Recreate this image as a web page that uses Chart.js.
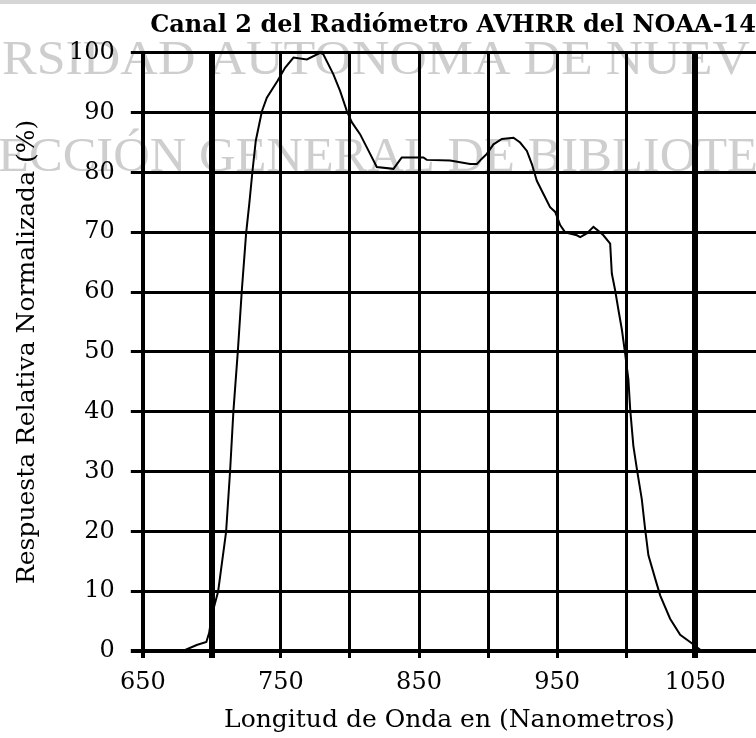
<!DOCTYPE html>
<html>
<head>
<meta charset="utf-8">
<script src="https://cdn.jsdelivr.net/npm/chart.js@4.4.1/dist/chart.umd.min.js"></script>
<style>
  html, body { margin: 0; padding: 0; background: #fff; overflow: hidden; }
  #wrap { width: 756px; height: 738px; position: relative; }
</style>
</head>
<body>
<div id="wrap"><canvas id="chart"></canvas></div>
<script>
// Canal 2 AVHRR / NOAA-14 - respuesta espectral
const wavelength = [650, 679, 689, 696, 698, 700, 704.5, 710.3, 713.2, 715.6, 718.8,
  721.7, 724.8, 727.2, 729.4, 731.8, 736.2, 739.8, 747.5, 753, 759.1,
  768.8, 778.4, 780.6, 788, 792.9, 797.7, 801.3, 807.3, 814.6, 819.4,
  831.5, 837.5, 853.2, 855.6, 872.5, 887, 891.9, 895.5, 899.1, 903.9,
  910, 918.4, 923.2, 928.1, 931.7, 935.3, 940.1, 944.9, 948.6, 952.2,
  955.8, 964.3, 966.7, 971.5, 976.3, 981.1, 983.5, 988.4, 989.6, 992,
  994.4, 996.9, 999.2, 1001.6, 1002.9, 1005.2, 1008.1, 1011.3, 1013.7, 1016.1,
  1021, 1024.6, 1031.8, 1039.1, 1047.5, 1053.6, 1100];
const response = [0, 0, 1.0, 1.5, 3, 6, 9.9, 19.9, 30.1, 40.1, 50.1,
  60.3, 69.8, 75, 80.2, 85.3, 90.2, 92.5, 95.3, 97.5, 99.2,
  98.9, 100, 99.8, 96.4, 93.6, 90.3, 88.4, 86.4, 83.1, 80.9,
  80.6, 82.5, 82.5, 82.1, 82.0, 81.4, 81.4, 82.3, 83.1, 84.7,
  85.6, 85.8, 85.0, 83.6, 81.4, 78.6, 76.4, 74.2, 73.4, 71.2,
  70.0, 69.5, 69.2, 69.8, 70.9, 70.0, 69.5, 68.1, 63.1, 60.3,
  57.0, 53.7, 49.8, 45.4, 40.4, 34.3, 29.9, 25.4, 20.4, 16.0,
  12.1, 9.3, 5.4, 2.7, 1.3, 0.2, 0];
const xTickLabels = [650, 750, 850, 950, 1050];
const yTickLabels = [0, 10, 20, 30, 40, 50, 60, 70, 80, 90, 100];

// faint scanned watermark behind the chart
const watermarkRows = ['RSIDAD AUTONOMA DE NUEV', 'ECCIÓN GENERAL DE BIBLIOTE'];

const serif = 'DejaVu Serif';

const backdrop = {
  id: 'backdrop',
  beforeDraw(chart) {
    const ctx = chart.ctx;
    ctx.save();
    ctx.fillStyle = '#d6d6d6';
    ctx.fillRect(0, 0, chart.width, 4);
    ctx.fillStyle = 'rgb(206,206,206)';
    ctx.font = '48px "Liberation Serif"';
    ctx.textBaseline = 'alphabetic';
    const rows = [[watermarkRows[0], 2, 750, 74], [watermarkRows[1], -2, 758, 171]];
    rows.forEach(([txt, x0, x1, base]) => {
      const w = ctx.measureText(txt).width;
      ctx.save();
      ctx.translate(x0, base);
      ctx.scale((x1 - x0) / w, 1);
      ctx.fillText(txt, 0, 0);
      ctx.restore();
    });
    ctx.restore();
  }
};

const points = wavelength.map((w, i) => ({ x: w, y: response[i] }));

new Chart(document.getElementById('chart'), {
  type: 'line',
  data: {
    datasets: [{
      data: points,
      borderColor: '#000',
      borderWidth: 2,
      pointRadius: 0,
      tension: 0,
      fill: false
    }]
  },
  options: {
    responsive: true,
    maintainAspectRatio: false,
    animation: false,
    layout: { padding: { left: 4, right: 0, top: 0, bottom: 0 } },
    plugins: {
      legend: { display: false },
      tooltip: { enabled: false },
      title: {
        display: true,
        text: 'Canal 2 del Radiómetro AVHRR del NOAA-14',
        align: 'end',
        color: '#000',
        font: { family: serif, size: 24, weight: 'bold' },
        padding: { top: 11, bottom: 13 }
      }
    },
    scales: {
      x: {
        type: 'linear',
        min: 650,
        max: 1094,
        border: { display: false },
        grid: {
          color: '#000',
          tickLength: 7,
          lineWidth: c => (c.tick && (c.tick.value === 700 || c.tick.value === 1050)) ? 6 : (c.tick && c.tick.value === 650 ? 4 : 3)
        },
        ticks: {
          stepSize: 50,
          includeBounds: false,
          autoSkip: false,
          maxRotation: 0,
          padding: 13,
          color: '#000',
          font: { family: serif, size: 24, lineHeight: 1 },
          callback: v => xTickLabels.includes(v) ? String(v) : ''
        },
        title: {
          display: true,
          text: 'Longitud de Onda en (Nanometros)',
          color: '#000',
          font: { family: serif, size: 25, lineHeight: 1 },
          padding: { top: 0, bottom: 5 }
        }
      },
      y: {
        min: 0,
        max: 100,
        border: { display: false },
        grid: {
          color: '#000',
          tickLength: 12,
          lineWidth: c => (c.tick && c.tick.value === 0) ? 4 : 3
        },
        ticks: {
          stepSize: 10,
          padding: 16,
          color: '#000',
          font: { family: serif, size: 24 },
          callback: v => yTickLabels.includes(v) ? String(v) : ''
        },
        title: {
          display: true,
          text: 'Respuesta Relativa Normalizada (%)',
          color: '#000',
          font: { family: serif, size: 25 },
          padding: { top: 8, bottom: 11 }
        }
      }
    }
  },
  plugins: [backdrop]
});
</script>
</body>
</html>
